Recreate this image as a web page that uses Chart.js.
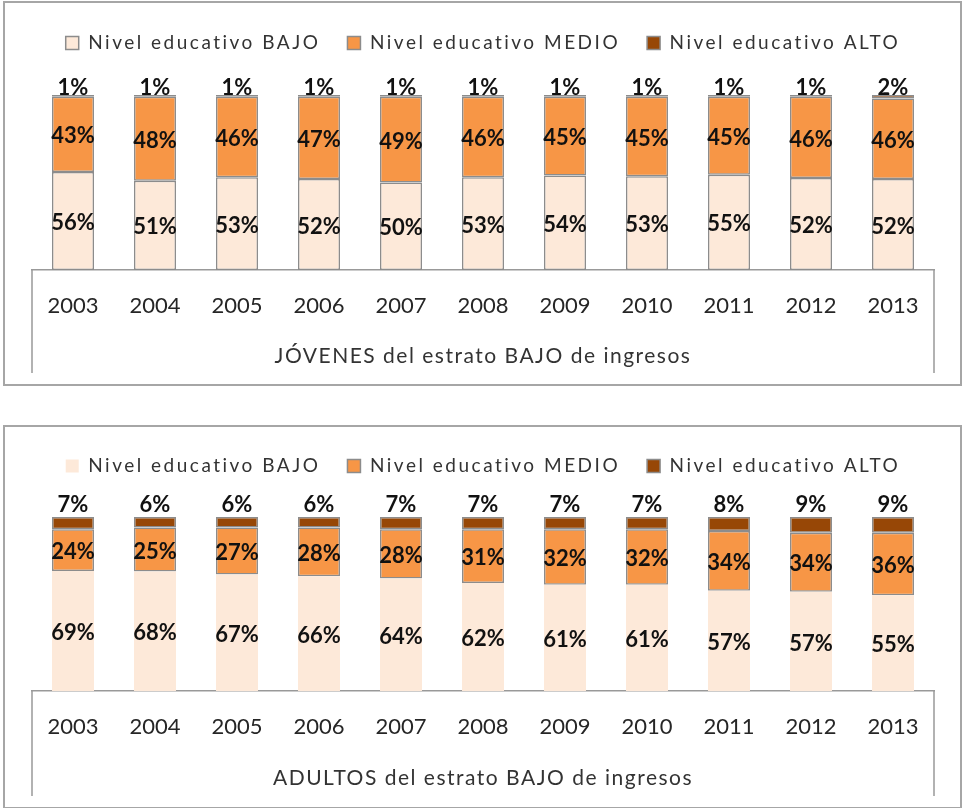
<!DOCTYPE html>
<html><head><meta charset="utf-8">
<script src="https://cdn.jsdelivr.net/npm/chart.js@4.4.1/dist/chart.umd.min.js"></script>
<style>
html,body{margin:0;padding:0;background:#fff;overflow:hidden;width:964px;height:808px;}
.box{position:absolute;left:3px;width:955px;border:2px solid #a6a6a6;background:#fff;}
#b1{top:1px;height:381px;}
#b2{top:425px;height:380px;}
</style></head><body>
<div class="box" id="b1"><canvas id="c1"></canvas></div>
<div class="box" id="b2"><canvas id="c2"></canvas></div>
<script>
const years = ['2003','2004','2005','2006','2007','2008','2009','2010','2011','2012','2013'];
const seriesNames = ['Nivel educativo BAJO','Nivel educativo MEDIO','Nivel educativo ALTO'];
const seriesColors = ['#FDE9D9','#F79646','#974706'];

const jovenesBajo  = [56,51,53,52,50,53,54,53,55,52,52];
const jovenesMedio = [43,48,46,47,49,46,45,45,45,46,46];
const jovenesAlto  = [1,1,1,1,1,1,1,1,1,1,2];

const adultosBajo  = [69,68,67,66,64,62,61,61,57,57,55];
const adultosMedio = [24,25,27,28,28,31,32,32,34,34,36];
const adultosAlto  = [7,6,6,6,7,7,7,7,8,9,9];

const groupJovenes = 'JÓVENES del estrato BAJO de ingresos';
const groupAdultos = 'ADULTOS del estrato BAJO de ingresos';

function makeChart(id, values, groupLabel, cfg) {
  const ctxEl = document.getElementById(id);
  // 100% stacked: each category's segments are drawn as shares of that category's total
  const totals = years.map((_, i) => values.reduce((s, v) => s + v[i], 0));
  const datasets = values.map((v, i) => ({
    label: seriesNames[i],
    data: v.map((val, j) => val / totals[j] * 100),
    raw: v,
    backgroundColor: seriesColors[i],
    borderColor: '#8c8c8c',
    borderWidth: cfg.borders[i],
    borderSkipped: false,
    categoryPercentage: 1,
    barPercentage: 0.512
  }));

  const patchPlugin = {
    id: 'patch',
    afterInit(chart) {
      const lg = chart.legend;
      const fit = lg.fit, draw = lg.draw;
      lg.fit = function () {
        const c = this.ctx; const p = c.letterSpacing;
        c.letterSpacing = '2.5px';
        fit.apply(this, arguments);
        c.letterSpacing = p || '0px';
        this.height = cfg.chartTop - cfg.padTop;
      };
      lg.draw = function () {
        const c = this.ctx; const p = c.letterSpacing;
        c.letterSpacing = '2.5px';
        draw.apply(this, arguments);
        c.letterSpacing = p || '0px';
      };
    },
    beforeDraw(chart) {
      const s = chart.scales.x;
      if (!s._spaced) {
        const dt = s.drawTitle;
        s.drawTitle = function () {
          const c = this.ctx; const p = c.letterSpacing;
          c.letterSpacing = '1.5px';
          dt.apply(this, arguments);
          c.letterSpacing = p || '0px';
        };
        s._spaced = true;
      }
    },
    afterDatasetsDraw(chart) {
      const ctx = chart.ctx;
      ctx.save();
      ctx.font = 'bold 22px Lato';
      ctx.fillStyle = '#111';
      ctx.textAlign = 'center';
      ctx.textBaseline = 'middle';
      chart.data.datasets.forEach((ds, di) => {
        const meta = chart.getDatasetMeta(di);
        meta.data.forEach((el, i) => {
          const p = el.getProps(['x', 'y', 'base'], true);
          const ty = di === 2 ? p.y - cfg.topLabelOffset : (p.y + p.base) / 2 + 2;
          ctx.fillText(ds.raw[i] + '%', p.x, ty);
        });
      });
      ctx.restore();
    },
    afterDraw(chart) {
      const s = chart.scales.x;
      const ctx = chart.ctx;
      ctx.save();
      ctx.strokeStyle = '#999';
      ctx.lineWidth = 1.5;
      ctx.beginPath();
      ctx.moveTo(s.left, s.top); ctx.lineTo(s.left, s.top + cfg.sideLine);
      ctx.moveTo(s.right, s.top); ctx.lineTo(s.right, s.top + cfg.sideLine);
      ctx.stroke();
      ctx.restore();
    }
  };

  return new Chart(ctxEl, {
    type: 'bar',
    data: { labels: years, datasets },
    plugins: [patchPlugin],
    options: {
      responsive: true,
      maintainAspectRatio: false,
      animation: false,
      layout: { padding: { top: cfg.padTop, left: 27, right: 26, bottom: 0 } },
      plugins: {
        legend: {
          position: 'top',
          labels: {
            boxWidth: 13, boxHeight: 13, padding: 27,
            color: '#333',
            font: { family: 'Lato', size: 19 }
          }
        },
        tooltip: { enabled: false },
        title: { display: false }
      },
      scales: {
        x: {
          stacked: true,
          grid: { display: false, drawTicks: false },
          border: { display: true, color: '#999', width: 1.5 },
          ticks: { color: '#262626', font: { family: 'Lato', size: 22 }, padding: 23, maxRotation: 0 },
          title: { display: true, text: groupLabel, color: '#333', font: { family: 'Lato', size: 21 }, padding: { top: 0, bottom: cfg.titleBottom } },
          afterFit(scale) { scale.height = cfg.axisHeight; }
        },
        y: {
          stacked: true, display: false, min: 0, max: 100
        }
      }
    }
  });
}

makeChart('c1', [jovenesBajo, jovenesMedio, jovenesAlto], groupJovenes,
  { borders: [1.5, 1.5, 1.5], chartTop: 92, padTop: 3.5, axisHeight: 114, titleBottom: 15.4, sideLine: 103, topLabelOffset: 7 });
makeChart('c2', [adultosBajo, adultosMedio, adultosAlto], groupAdultos,
  { borders: [0, 1.5, 1.5], chartTop: 90, padTop: 2.5, axisHeight: 116, titleBottom: 16.4, sideLine: 105, topLabelOffset: 12 });
</script>
</body></html>
